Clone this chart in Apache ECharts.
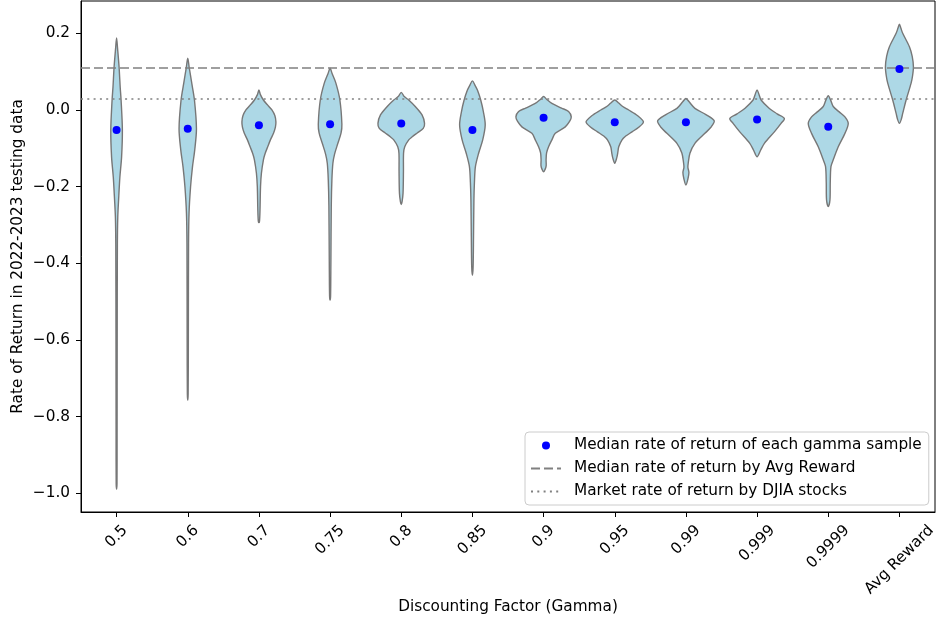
<!DOCTYPE html>
<html>
<head>
<meta charset="utf-8">
<script src="https://cdn.jsdelivr.net/npm/echarts@6/dist/echarts.min.js"></script>
<style>
  html, body { margin: 0; padding: 0; background: #fff; }
  #chart { width: 937px; height: 626px; }
</style>
</head>
<body>
<div id="chart"></div>
<script>
// ---------------- data ----------------
const categories = ['0.5', '0.6', '0.7', '0.75', '0.8', '0.85', '0.9', '0.95', '0.99', '0.999', '0.9999', 'Avg Reward'];
const medians = [-0.052, -0.049, -0.040, -0.037, -0.035, -0.052, -0.020, -0.032, -0.032, -0.025, -0.044, 0.107];
const avgRewardMedian = 0.109;
const marketReturn = 0.031;
const yTicks = [-1.0, -0.8, -0.6, -0.4, -0.2, 0.0, 0.2];

// violin outlines: [rate of return, density (half-width)]
const violin_0_5 = [[0.188,0],[0.16,1.0],[0.112,2.5],[0.06,3.6],[0.026,4.5],[-0.052,5.8],[-0.123,5.0],[-0.175,3.3],[-0.235,2.0],[-0.278,1.2],[-0.35,0.8],[-0.6,0.6],[-0.85,0.5],[-0.975,0.4],[-0.989,0]];
const violin_0_6 = [[0.135,0],[0.11,1.5],[0.07,4],[0.026,6.7],[-0.049,8.7],[-0.104,7],[-0.149,4.7],[-0.201,2.8],[-0.269,1.3],[-0.35,0.8],[-0.6,0.6],[-0.74,0.4],[-0.757,0]];
const violin_0_7 = [[0.052,0],[0.04,1.5],[0.026,4.5],[0.012,9],[0.0,13],[-0.015,16],[-0.031,17],[-0.045,16.5],[-0.060,14.7],[-0.078,11.5],[-0.096,8.8],[-0.113,6.3],[-0.130,4.5],[-0.165,2.5],[-0.2,1.6],[-0.26,1.1],[-0.29,0.6],[-0.294,0]];
const violin_0_75 = [[0.109,0],[0.095,2],[0.07,5.8],[0.026,9.8],[-0.037,11.8],[-0.06,11],[-0.087,7.8],[-0.115,4.5],[-0.139,2.8],[-0.183,1.8],[-0.25,1.2],[-0.4,0.8],[-0.485,0.5],[-0.496,0]];
const violin_0_8 = [[0.046,0],[0.035,3],[0.026,7.5],[0.009,14],[-0.013,20.8],[-0.035,23.3],[-0.048,22],[-0.060,16],[-0.070,11],[-0.078,7.5],[-0.096,3.5],[-0.113,2.3],[-0.16,2.2],[-0.217,1.8],[-0.24,0.8],[-0.247,0]];
const violin_0_85 = [[0.076,0],[0.065,2.5],[0.052,5],[0.026,8.3],[-0.005,11],[-0.039,12.8],[-0.078,10.3],[-0.113,6.2],[-0.148,3],[-0.19,2],[-0.235,1.5],[-0.33,1.1],[-0.409,0.7],[-0.431,0]];
const violin_0_9 = [[0.035,0],[0.028,3],[0.017,8.3],[0.005,18],[-0.004,25],[-0.018,27.7],[-0.030,26],[-0.044,21.7],[-0.061,11.7],[-0.078,8.3],[-0.096,5],[-0.112,3],[-0.130,2.5],[-0.145,2.6],[-0.155,1.5],[-0.161,0]];
const violin_0_95 = [[0.026,0],[0.018,4],[0.009,8],[0.0,14],[-0.015,23],[-0.031,28.7],[-0.045,24],[-0.057,17.3],[-0.068,11],[-0.078,7.3],[-0.096,4],[-0.112,3],[-0.125,2],[-0.139,0]];
const violin_0_99 = [[0.030,0],[0.022,3],[0.0043,9],[-0.012,20],[-0.028,28.3],[-0.045,25],[-0.061,19],[-0.087,9],[-0.113,4],[-0.139,2.3],[-0.150,2],[-0.163,3],[-0.180,2],[-0.196,0]];
const violin_0_999 = [[0.052,0],[0.040,2],[0.026,4],[0.004,12.3],[-0.010,20],[-0.022,27.3],[-0.035,24],[-0.057,17.3],[-0.087,7.3],[-0.105,3.5],[-0.122,0]];
const violin_0_9999 = [[0.037,0],[0.025,2.5],[0.009,5],[-0.005,11],[-0.018,16.7],[-0.035,20],[-0.061,16.7],[-0.096,10],[-0.130,5],[-0.148,2.7],[-0.19,2],[-0.235,1.7],[-0.252,0]];
const violin_avg = [[0.224,0],[0.213,1.5],[0.2,3.3],[0.165,10],[0.14,12.8],[0.113,14],[0.09,13.2],[0.070,11.7],[0.026,6.7],[-0.009,3.3],[-0.025,1.8],[-0.035,0]];

const violinProfiles = [violin_0_5, violin_0_6, violin_0_7, violin_0_75, violin_0_8, violin_0_85,
  violin_0_9, violin_0_95, violin_0_99, violin_0_999, violin_0_9999, violin_avg];

// ---------------- styling ----------------
const FONT = 'DejaVu Sans';
const TICK_FS = 15.3;
const LABEL_FS = 15.3;
const REF_BAND = 71.2; // density unit reference

// x label offsets so rotated labels are centred under ticks (matplotlib style)
const measureCtx = document.createElement('canvas').getContext('2d');
measureCtx.font = TICK_FS + 'px "' + FONT + '"';
const LH = 17;
const rich = {};
categories.forEach((c, i) => {
  const w = measureCtx.measureText(c).width;
  const p = 0.5 * (w + LH);
  rich['l' + i] = { fontSize: TICK_FS, fontFamily: FONT, color: '#000', lineHeight: LH, padding: [p, p, 0, 0] };
});

const fmtY = v => (v < 0 ? '\u2212' : '') + Math.abs(v).toFixed(1);

const chart = echarts.init(document.getElementById('chart'), null, { renderer: 'canvas' });

const option = {
  backgroundColor: '#fff',
  animation: false,
  grid: {
    left: 81, right: 2, top: 1, bottom: 114,
    show: true, borderColor: '#000', borderWidth: 1,
    containLabel: false, outerBoundsMode: 'none'
  },
  xAxis: {
    type: 'category',
    data: categories,
    boundaryGap: true,
    name: 'Discounting Factor (Gamma)',
    nameLocation: 'middle',
    nameGap: 88,
    nameMoveOverlap: false,
    nameTextStyle: { fontSize: LABEL_FS, fontFamily: FONT, color: '#000' },
    axisLine: { show: true, onZero: false, lineStyle: { color: '#000', width: 1 } },
    axisTick: { show: true, alignWithLabel: true, length: 5, lineStyle: { color: '#000' } },
    axisLabel: {
      interval: 0, rotate: 45, margin: 10, align: 'center', verticalAlign: 'middle',
      formatter: (v, i) => '{l' + i + '|' + v + '}',
      rich: rich
    },
    splitLine: { show: false }
  },
  yAxis: {
    type: 'value',
    min: -1.0488, max: 0.2843,
    name: 'Rate of Return in 2022-2023 testing data',
    nameLocation: 'middle',
    nameGap: 55,
    nameMoveOverlap: false,
    nameRotate: 90,
    nameTextStyle: { fontSize: LABEL_FS, fontFamily: FONT, color: '#000' },
    axisLine: { show: true, onZero: false, lineStyle: { color: '#000', width: 1 } },
    axisTick: { show: true, length: 5, lineStyle: { color: '#000' }, customValues: yTicks },
    axisLabel: { fontSize: TICK_FS, fontFamily: FONT, color: '#000', margin: 11, customValues: yTicks, formatter: fmtY },
    splitLine: { show: false }
  },
  legend: {
    orient: 'vertical',
    left: 525, top: 432,
    padding: [5, 7, 5, 5],
    itemGap: 6,
    itemWidth: 30, itemHeight: 8,
    borderColor: '#cccccc', borderWidth: 1, borderRadius: 4,
    backgroundColor: 'rgba(255,255,255,0.8)',
    textStyle: { fontSize: LABEL_FS, fontFamily: FONT, color: '#000', lineHeight: 17, padding: [0, 0, 0, 8] },
    data: [
      { name: 'Median rate of return of each gamma sample', icon: 'circle', itemStyle: { color: '#0000ff', opacity: 1 } },
      { name: 'Median rate of return by Avg Reward', itemStyle: { opacity: 0 } },
      { name: 'Market rate of return by DJIA stocks', itemStyle: { opacity: 0 } }
    ]
  },
  series: [
    {
      type: 'custom',
      name: 'violins',
      data: categories.map((c, i) => [i, medians[i]]),
      encode: { x: 0, y: 1 },
      z: 2,
      renderItem: function (params, api) {
        const i = api.value(0);
        const prof = violinProfiles[i];
        const k = api.size([1, 0])[0] / REF_BAND;
        const right = [], left = [];
        prof.forEach(([v, d]) => {
          const p = api.coord([i, v]);
          right.push([p[0] + d * k, p[1]]);
          left.push([p[0] - d * k, p[1]]);
        });
        const pts = right.concat(left.reverse().slice(1, -1));
        return {
          type: 'polygon',
          shape: { points: pts, smooth: 0.3 },
          style: { fill: '#ADD8E6', stroke: '#777777', lineWidth: 1.4 }
        };
      }
    },
    {
      type: 'line',
      name: 'Median rate of return by Avg Reward',
      data: [],
      symbol: 'none',
      showSymbol: false,
      lineStyle: { color: '#808080', width: 1.6, type: [9, 4] },
      itemStyle: { color: '#808080' },
      markLine: {
        silent: true, symbol: 'none',
        label: { show: false },
        lineStyle: { color: '#808080', width: 1.6, type: [9, 4] },
        data: [{ yAxis: avgRewardMedian }]
      },
      z: 3
    },
    {
      type: 'line',
      name: 'Market rate of return by DJIA stocks',
      data: [],
      symbol: 'none',
      showSymbol: false,
      lineStyle: { color: '#808080', width: 1.6, type: [2, 4.3] },
      itemStyle: { color: '#808080' },
      markLine: {
        silent: true, symbol: 'none',
        label: { show: false },
        lineStyle: { color: '#808080', width: 1.6, type: [2, 4.3] },
        data: [{ yAxis: marketReturn }]
      },
      z: 3
    },
    {
      type: 'scatter',
      name: 'Median rate of return of each gamma sample',
      data: medians.map((v, i) => [i, v]),
      symbol: 'circle',
      symbolSize: 8,
      itemStyle: { color: '#0000ff', opacity: 1 },
      z: 5
    }
  ]
};
chart.setOption(option);
</script>
</body>
</html>
